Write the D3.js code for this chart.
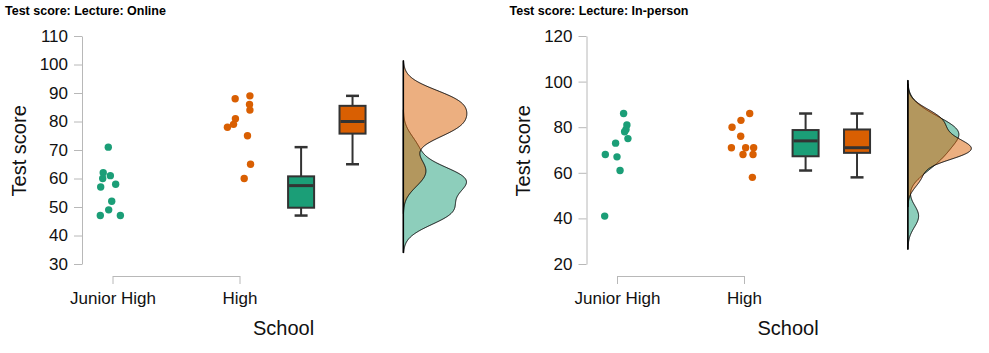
<!DOCTYPE html>
<html><head><meta charset="utf-8">
<script src="https://cdn.jsdelivr.net/npm/d3@7"></script>
<style>body{margin:0;background:#fff} svg text{font-family:Arial,"Liberation Sans",sans-serif}</style>
</head><body><svg id="c" width="989" height="353"></svg>
<script>
// ---------- data ----------
const categories = ["Junior High", "High"];
const panelTitles = ["Test score: Lecture: Online", "Test score: Lecture: In-person"];
const yDomainOnline = [30, 110];
const yDomainInPerson = [20, 120];
const yTicksOnline = [30, 40, 50, 60, 70, 80, 90, 100, 110];
const yTicksInPerson = [20, 40, 60, 80, 100, 120];
const colors = ["#1b9e77", "#d95f02"];

// Online
const onlineJunior = [71, 62, 61, 60, 58, 57, 52, 49, 47, 47];
const onlineJuniorJitter = [-0.033, -0.073, -0.017, -0.077, 0.025, -0.093, -0.006, -0.030, -0.096, 0.062];
const onlineHigh = [88, 89, 86, 84, 81, 79, 78, 75, 65, 60];
const onlineHighJitter = [-0.034, 0.082, 0.079, 0.082, -0.032, -0.047, -0.095, 0.063, 0.087, 0.037];
// In-person
const inPersonJunior = [86, 81, 79, 78, 75, 73, 68, 67, 61, 41];
const inPersonJuniorJitter = [0.052, 0.078, 0.071, 0.060, 0.086, -0.011, -0.092, 0.000, 0.024, -0.097];
const inPersonHigh = [86, 83, 80, 76, 71, 71, 71, 68, 68, 58];
const inPersonHighJitter = [0.045, -0.024, -0.094, -0.026, -0.099, 0.013, 0.076, -0.008, 0.071, 0.066];

const panels = [
  {title: panelTitles[0], yDomain: yDomainOnline, yTicks: yTicksOnline,
   groups: [{values: onlineJunior, jitter: onlineJuniorJitter}, {values: onlineHigh, jitter: onlineHighJitter}]},
  {title: panelTitles[1], yDomain: yDomainInPerson, yTicks: yTicksInPerson,
   groups: [{values: inPersonJunior, jitter: inPersonJuniorJitter}, {values: inPersonHigh, jitter: inPersonHighJitter}]}
];

// ---------- helpers ----------
function bwNrd0(v) {
  const s = d3.deviation(v);
  const sorted = v.slice().sort(d3.ascending);
  const iqr = d3.quantileSorted(sorted, 0.75) - d3.quantileSorted(sorted, 0.25);
  const lo = Math.min(s, iqr / 1.34);
  return 0.9 * lo * Math.pow(v.length, -0.2);
}
function kde(v) {
  const bw = bwNrd0(v);
  const lo = d3.min(v) - 3 * bw, hi = d3.max(v) + 3 * bw;
  const n = 512, out = [];
  for (let i = 0; i < n; i++) {
    const x = lo + (hi - lo) * i / (n - 1);
    let s = 0;
    for (const xi of v) { const z = (x - xi) / bw; s += Math.exp(-0.5 * z * z); }
    out.push([x, s / (v.length * bw * Math.sqrt(2 * Math.PI))]);
  }
  return out;
}

const svg = d3.select("#c");
const offsets = [0, 504.5];
const AXIS_GREY = "#b8b8b8";
const FONT = "Arial, 'Liberation Sans', sans-serif";

panels.forEach((p, pi) => {
  const g = svg.append("g").attr("transform", `translate(${offsets[pi]},0)`);
  const x = d3.scaleLinear().domain([1, 2]).range([112.5, 239.5]);
  const y = d3.scaleLinear().domain(p.yDomain).range([264, 36]);

  // title
  g.append("text").attr("x", 5).attr("y", 15).attr("font-size", 12.5).attr("font-weight", "bold")
    .attr("fill", "#000").text(p.title);

  // y axis
  const yAxis = g.append("g").attr("transform", "translate(82,0)")
    .call(d3.axisLeft(y).tickValues(p.yTicks).tickSize(8).tickSizeOuter(0).tickPadding(6));
  yAxis.select(".domain").attr("stroke", AXIS_GREY);
  yAxis.selectAll(".tick line").attr("stroke", AXIS_GREY);
  yAxis.selectAll(".tick text").attr("font-size", 17).attr("fill", "#111").attr("font-family", FONT);

  // x axis bracket
  const xAxis = g.append("g").attr("transform", "translate(0,276)")
    .call(d3.axisBottom(x).tickValues([1, 2]).tickFormat((d, i) => categories[i]).tickSize(8).tickSizeOuter(0).tickPadding(8));
  xAxis.select(".domain").attr("stroke", AXIS_GREY);
  xAxis.selectAll(".tick line").attr("stroke", AXIS_GREY);
  xAxis.selectAll(".tick text").attr("font-size", 17).attr("fill", "#111").attr("font-family", FONT);

  // axis titles
  g.append("text").attr("x", 283.5).attr("y", 335).attr("text-anchor", "middle")
    .attr("font-size", 20).attr("fill", "#111").text("School");
  g.append("text").attr("transform", "translate(25.5,150.8) rotate(-90)").attr("text-anchor", "middle")
    .attr("font-size", 20).attr("fill", "#111").text("Test score");

  // points
  p.groups.forEach((grp, gi) => {
    g.append("g").selectAll("circle").data(grp.values).join("circle")
      .attr("cx", (d, i) => x(gi + 1 + grp.jitter[i]))
      .attr("cy", d => y(d)).attr("r", 3.7).attr("fill", colors[gi]);
  });

  // boxplots
  const boxPos = [2.485, 2.89];
  const boxHalf = 0.1025;
  p.groups.forEach((grp, gi) => {
    const s = grp.values.slice().sort(d3.ascending);
    const q1 = d3.quantileSorted(s, 0.25), med = d3.quantileSorted(s, 0.5), q3 = d3.quantileSorted(s, 0.75);
    const iqr = q3 - q1;
    const lowW = d3.min(s.filter(v => v >= q1 - 1.5 * iqr));
    const highW = d3.max(s.filter(v => v <= q3 + 1.5 * iqr));
    const cx = x(boxPos[gi]);
    const bx0 = x(boxPos[gi] - boxHalf), bx1 = x(boxPos[gi] + boxHalf);
    const capHalf = 6.5;
    const bg = g.append("g");
    bg.append("line").attr("x1", cx).attr("x2", cx).attr("y1", y(q3)).attr("y2", y(highW))
      .attr("stroke", "#333").attr("stroke-width", 2);
    bg.append("line").attr("x1", cx).attr("x2", cx).attr("y1", y(q1)).attr("y2", y(lowW))
      .attr("stroke", "#333").attr("stroke-width", 2);
    [highW, lowW].forEach(w => bg.append("line").attr("x1", cx - capHalf).attr("x2", cx + capHalf)
      .attr("y1", y(w)).attr("y2", y(w)).attr("stroke", "#333").attr("stroke-width", 2.5));
    bg.append("rect").attr("x", bx0).attr("width", bx1 - bx0).attr("y", y(q3)).attr("height", y(q1) - y(q3))
      .attr("fill", colors[gi]).attr("stroke", "#333").attr("stroke-width", 2);
    bg.append("line").attr("x1", bx0 + 1).attr("x2", bx1 - 1).attr("y1", y(med)).attr("y2", y(med))
      .attr("stroke", "#333").attr("stroke-width", 3);
  });

  // half densities
  const base = 3.29, maxW = 0.5;
  const dens = p.groups.map(grp => kde(grp.values));
  const dmax = d3.max(dens, d => d3.max(d, e => e[1]));
  const w = d3.scaleLinear().domain([0, dmax]).range([0, maxW]);
  dens.forEach((d, gi) => {
    const area = d3.area().y(e => y(e[0])).x0(x(base)).x1(e => x(base + w(e[1])));
    g.append("path").datum(d).attr("d", area)
      .attr("fill", colors[gi]).attr("fill-opacity", 0.5)
      .attr("stroke", "#000").attr("stroke-width", 1);
  });
  g.append("line").attr("x1", x(base)).attr("x2", x(base))
    .attr("y1", y(d3.max(dens, d => d[d.length - 1][0]))).attr("y2", y(d3.min(dens, d => d[0][0])))
    .attr("stroke", "#000").attr("stroke-width", 1.5);
});
</script></body></html>
